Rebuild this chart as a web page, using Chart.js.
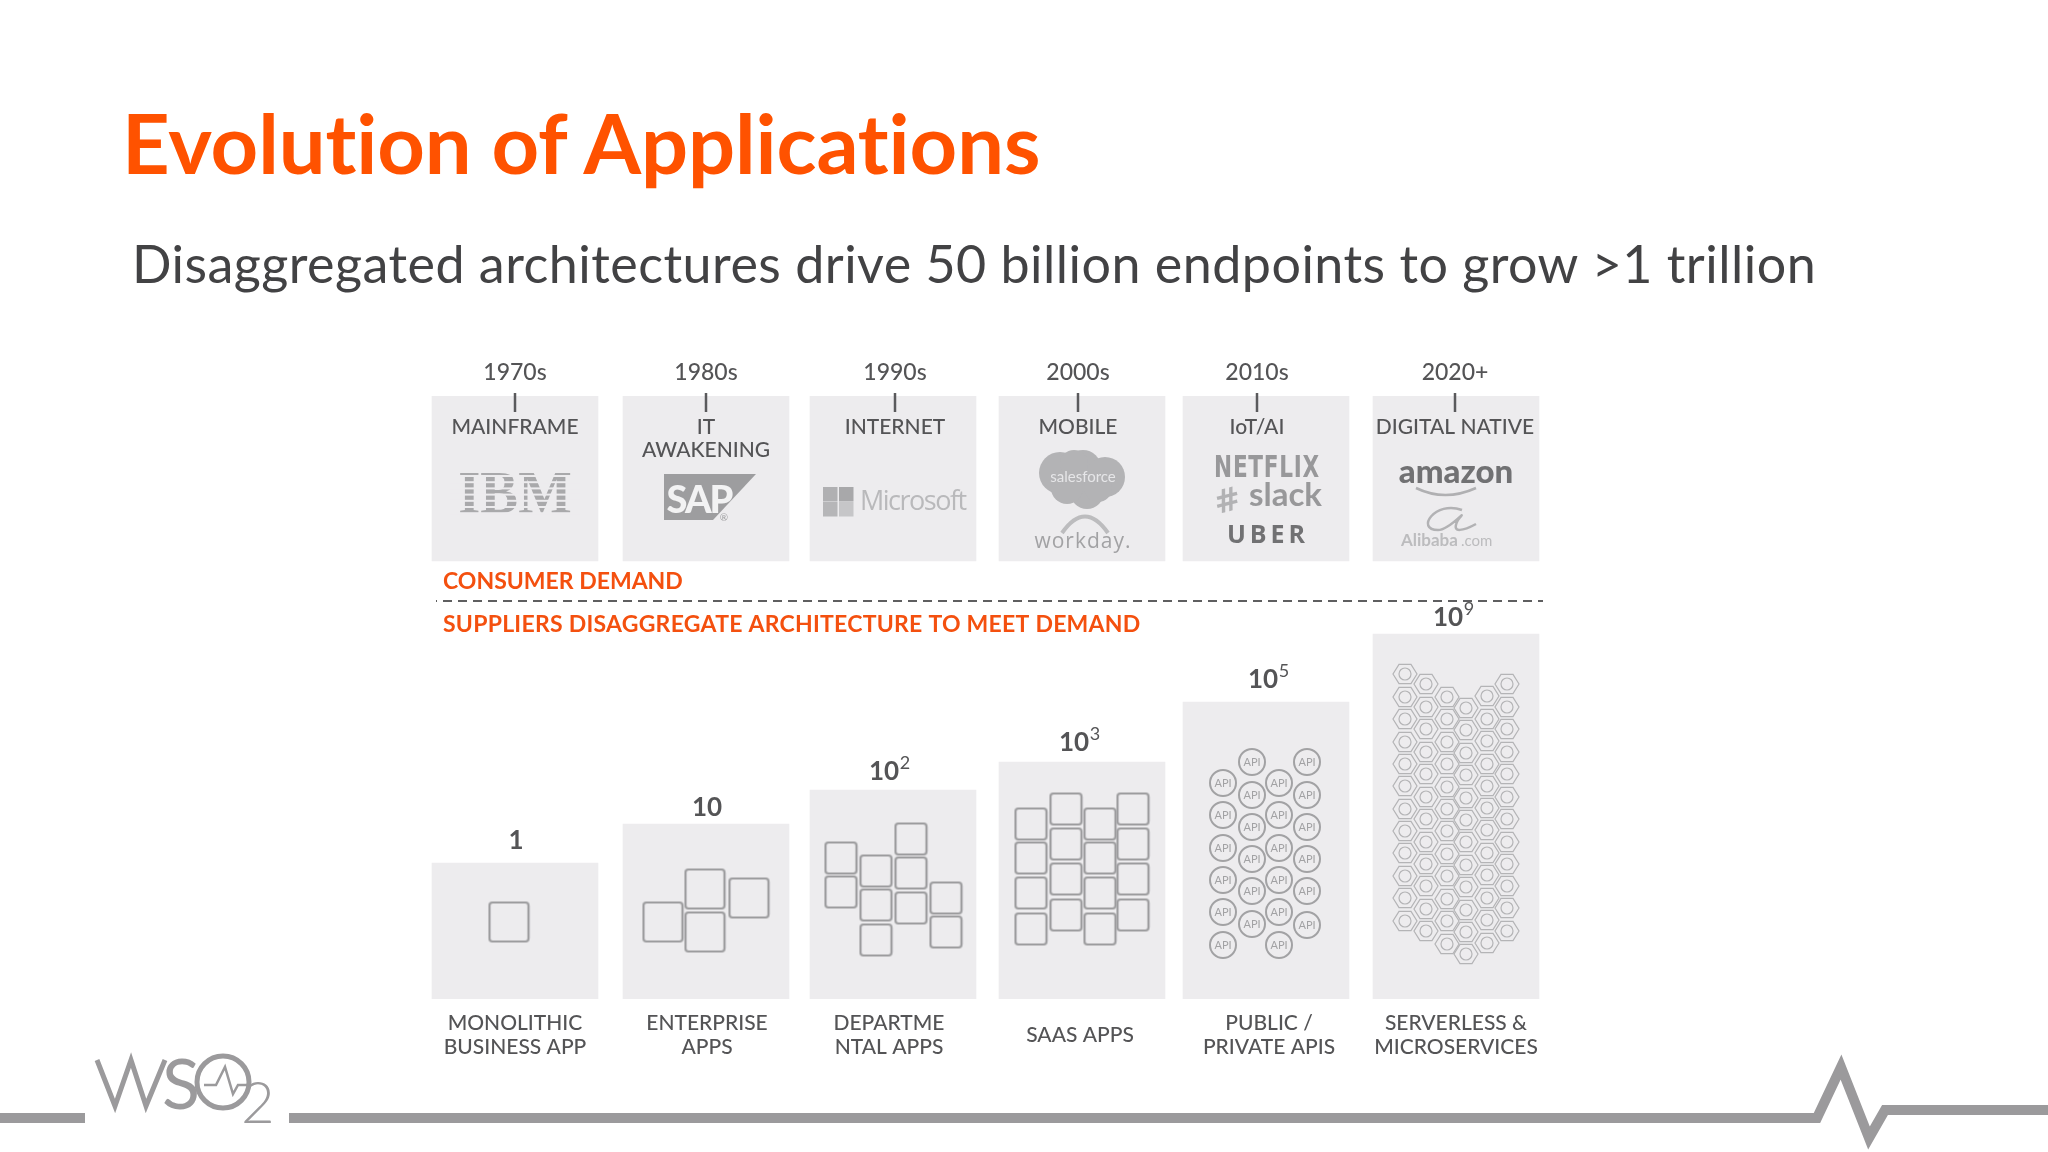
<!DOCTYPE html>
<html>
<head>
<meta charset="utf-8">
<title>Evolution of Applications</title>
<script src="https://cdn.jsdelivr.net/npm/chart.js@4"></script>
<style>
  html, body { margin: 0; background: #fff; width: 2048px; height: 1152px; overflow: hidden; }
  #wrap { position: relative; width: 2048px; height: 1152px; font-family: Lato, sans-serif; }
  canvas { position: absolute; left: 0; top: 0; }
  h1, h2 { position: absolute; margin: 0; white-space: nowrap; }
  h1 { left: 122px; top: 92px; font-size: 83px; line-height: 100px; font-weight: 700; color: #ff5200; letter-spacing: -0.1px; }
  h2 { left: 132px; top: 231px; font-size: 52px; line-height: 64px; font-weight: 400; color: #424244; letter-spacing: 0.48px; }
  svg { position: absolute; left: 0; top: 0; }
</style>
</head>
<body>
<div id="wrap">
  <canvas id="grafico" width="2048" height="1152"></canvas>
  <h1>Evolution of Applications</h1>
  <h2>Disaggregated architectures drive 50 billion endpoints to grow &gt;1 trillion</h2>
  <svg width="2048" height="1152" fill="none" stroke="#9b9a9c">
    <path d="M0 1118H85M289 1118H1817L1841 1067L1869 1138L1885 1110H2048" stroke-width="10" stroke-miterlimit="8"/>
    <path d="M97 1060L115 1106L131 1060L146 1106L165 1060" stroke-width="5"/>
    <circle cx="223" cy="1082" r="26" stroke-width="5"/>
    <path d="M204 1085H216L225 1067L233 1094L238 1085H249" stroke-width="2.5"/>
    <text x="162" y="1109" font-family="Lato" font-size="70" fill="#9b9a9c" stroke="none">S</text>
    <text x="241" y="1123" font-family="Lato" font-weight="300" font-size="58" fill="#9b9a9c" stroke="none">2</text>
  </svg>
</div>
<script>
// dati
const colonne = [515, 706, 893, 1082, 1266, 1456];
const decenni = ['1970s', '1980s', '1990s', '2000s', '2010s', '2020+'];
const decenniX = [515, 706, 895, 1078, 1257, 1455];
const ere = [['MAINFRAME'], ['IT', 'AWAKENING'], ['INTERNET'], ['MOBILE'], ['IoT/AI'], ['DIGITAL NATIVE']];
const categorie = [
  ['MONOLITHIC', 'BUSINESS APP'], ['ENTERPRISE', 'APPS'], ['DEPARTME', 'NTAL APPS'],
  ['SAAS APPS'], ['PUBLIC /', 'PRIVATE APIS'], ['SERVERLESS &', 'MICROSERVICES']
];
const categorieX = [515, 707, 889, 1080, 1269, 1456];
const altezzaInizio = [-2, 0, 0, 0, 0, 0];
const altezzaFine = [136, 175, 209, 237, 297, 365];
const domandaInizio = [438, 438, 438, 438, 438, 438];
const domandaFine = [603, 603, 603, 603, 603, 603];
const scala = ['1', '10', '10', '10', '10', '10'];
const esponente = ['', '', '2', '3', '5', '9'];
const scalaX = [516, 707, 884, 1074, 1263, 1448];
const scalaY = [150, 183, 219, 248, 311, 373];
const divisorio = [{x: 436, y: 398}, {x: 1543, y: 398}];

// una colonna di icone: x e le sue y
const blocchiGrandi = [[509, [77]], [663, [77]], [705, [110, 67]], [749, [101]]];
const blocchiReparto = [[841, [141, 107]], [876, [128, 94, 59]], [911, [160, 126, 91]], [946, [101, 67]]];
const blocchiSaas = [
  [1031, [175, 141, 106, 70]], [1066, [190, 155, 120, 84]],
  [1100, [175, 141, 106, 70]], [1133, [190, 155, 120, 84]]
];
const cerchiApi = [
  [1223, [216, 184, 151, 119, 87, 54]], [1252, [237, 204, 172, 140, 108, 75]],
  [1279, [216, 184, 151, 119, 87, 54]], [1307, [237, 204, 172, 140, 108, 74]]
];
const esagoni = [
  [1405, [325, 302, 280, 257, 235, 213, 190, 168, 146, 123, 101, 78]],
  [1426, [315, 292, 270, 247, 225, 202, 180, 157, 135, 113, 90, 68]],
  [1447, [302, 280, 257, 235, 212, 190, 168, 145, 123, 100, 78, 55]],
  [1466, [291, 269, 246, 224, 201, 179, 157, 134, 112, 89, 67, 45]],
  [1487, [303, 280, 258, 235, 213, 191, 169, 146, 124, 101, 79, 56]],
  [1507, [315, 292, 270, 247, 225, 202, 180, 157, 135, 113, 91, 68]]
];

const FONT = 'Lato, sans-serif';
const GRIGIO = '#545456';
const ARANCIO = '#f4500f';
const SFONDO = '#edecee';

function punti(colonneIcone) {
  return colonneIcone.flatMap(c => c[1].map(y => ({x: c[0], y: y})));
}

function tela(w, h, disegna) {
  const c = document.createElement('canvas');
  c.width = w;
  c.height = h;
  disegna(c.getContext('2d'));
  return c;
}

function quadrato(lato) {
  return tela(lato + 4, lato + 4, g => {
    g.strokeStyle = '#9c9c9e';
    g.lineWidth = 2.2;
    g.beginPath();
    g.roundRect(2, 2, lato, lato, 3);
    g.stroke();
  });
}

const iconaCerchio = tela(32, 32, g => {
  g.strokeStyle = '#a2a2a4';
  g.lineWidth = 2;
  g.beginPath();
  g.arc(16, 16, 13, 0, Math.PI * 2);
  g.stroke();
});

const iconaEsagono = tela(28, 26, g => {
  g.strokeStyle = '#b4b4b6';
  g.lineWidth = 1.2;
  g.beginPath();
  for (let i = 0; i < 6; i++) {
    const a = i * Math.PI / 3;
    g.lineTo(14 + 12 * Math.cos(a), 13 + 11 * Math.sin(a));
  }
  g.closePath();
  g.stroke();
  g.beginPath();
  g.arc(14, 13, 6, 0, Math.PI * 2);
  g.stroke();
});

function icone(dati, stile) {
  return {
    type: 'scatter', data: punti(dati), pointStyle: stile, pointRadius: 10,
    showLine: false, order: 1
  };
}

function testo(ctx, str, x, y, font, colore, align, spazio) {
  ctx.font = font;
  ctx.fillStyle = colore;
  ctx.textAlign = align || 'center';
  ctx.letterSpacing = (spazio || 0) + 'px';
  ctx.textBaseline = 'alphabetic';
  ctx.fillText(str, x, y);
  ctx.letterSpacing = '0px';
}

function disegnaLoghi(ctx) {
  // IBM a righe
  ctx.save();
  ctx.translate(515, 513);
  ctx.scale(0.93, 1);
  testo(ctx, 'IBM', 0, 0, 'bold 61px "Liberation Serif"', '#a9a9ab');
  ctx.restore();
  ctx.fillStyle = SFONDO;
  for (let i = 0; i < 7; i++) ctx.fillRect(450, 475 + i * 6.2, 130, 2);

  // SAP
  ctx.fillStyle = '#9d9d9f';
  ctx.beginPath();
  ctx.moveTo(664, 474);
  ctx.lineTo(756, 474);
  ctx.lineTo(713, 520);
  ctx.lineTo(664, 520);
  ctx.fill();
  testo(ctx, 'SAP', 699, 513, '900 38px ' + FONT, '#f2f2f3', 'center', -2);
  testo(ctx, '®', 724, 521, '10px ' + FONT, '#9d9d9f');

  // Microsoft
  [[823, 487, '#b0b0b2'], [839, 487, '#a8a8aa'], [823, 502, '#b6b6b8'], [839, 502, '#c6c6c8']].forEach(q => {
    ctx.fillStyle = q[2];
    ctx.fillRect(q[0], q[1], 14.5, 14.5);
  });
  testo(ctx, 'Microsoft', 860, 510, '27px "Open Sans"', '#b9b9bb', 'left', -1.5);

  // salesforce + workday
  ctx.fillStyle = '#b3b3b5';
  [[1060, 473, 21], [1083, 468, 18], [1105, 477, 20], [1087, 492, 17], [1067, 488, 16], [1074, 464, 14], [1098, 488, 14]].forEach(c => {
    ctx.beginPath();
    ctx.arc(c[0], c[1], c[2], 0, Math.PI * 2);
    ctx.fill();
  });
  testo(ctx, 'salesforce', 1083, 482, '15px ' + FONT, '#e6e6e8');
  ctx.strokeStyle = '#bcbcbe';
  ctx.lineWidth = 4;
  ctx.beginPath();
  ctx.moveTo(1062, 533);
  ctx.quadraticCurveTo(1085, 500, 1108, 533);
  ctx.stroke();
  testo(ctx, 'workday.', 1083, 548, '21px "Open Sans"', '#a2a2a4', 'center', 1);

  // Netflix, slack, Uber
  ctx.save();
  ctx.translate(1267, 477);
  ctx.scale(0.72, 1);
  testo(ctx, 'NETFLIX', 0, 0, 'bold 30px "DejaVu Sans"', '#98989a', 'center', 1);
  ctx.restore();
  ctx.save();
  ctx.translate(1230, 511);
  ctx.rotate(-0.25);
  testo(ctx, '#', 0, 0, 'bold 32px "DejaVu Sans"', '#b2b2b4');
  ctx.restore();
  testo(ctx, 'slack', 1249, 506, 'bold 33px ' + FONT, '#98989a', 'left');
  testo(ctx, 'UBER', 1268, 543, 'bold 25px "Open Sans"', '#717173', 'center', 4);

  // Amazon, Alibaba
  testo(ctx, 'amazon', 1456, 483, '900 33px ' + FONT, '#717173');
  ctx.strokeStyle = '#b0b0b2';
  ctx.lineWidth = 2.5;
  ctx.beginPath();
  ctx.moveTo(1416, 488);
  ctx.quadraticCurveTo(1445, 502, 1476, 488);
  ctx.stroke();
  ctx.strokeStyle = '#b2b2b4';
  ctx.lineWidth = 2.5;
  ctx.beginPath();
  ctx.moveTo(1462, 510);
  ctx.bezierCurveTo(1435, 500, 1415, 530, 1438, 530);
  ctx.bezierCurveTo(1450, 530, 1470, 505, 1458, 520);
  ctx.bezierCurveTo(1450, 535, 1465, 530, 1476, 524);
  ctx.stroke();
  testo(ctx, 'Alibaba', 1401, 546, 'bold 17px ' + FONT, '#bcbcbe', 'left');
  testo(ctx, '.com', 1461, 546, '15px ' + FONT, '#bcbcbe', 'left');
}

const testiExtra = {
  id: 'testiExtra',
  afterDatasetsDraw(chart) {
    const ctx = chart.ctx;
    const x = chart.scales.x;
    const y = chart.scales.y;
    ctx.save();

    // trattini dei decenni dentro i riquadri
    ctx.strokeStyle = '#5a5a5c';
    ctx.lineWidth = 2.5;
    decenniX.forEach(v => {
      ctx.beginPath();
      ctx.moveTo(x.getPixelForValue(v), y.getPixelForValue(606));
      ctx.lineTo(x.getPixelForValue(v), y.getPixelForValue(587));
      ctx.stroke();
    });

    ere.forEach((righe, i) => {
      righe.forEach((r, k) => {
        testo(ctx, r, x.getPixelForValue(decenniX[i]), y.getPixelForValue(565 - k * 23), '500 21px ' + FONT, GRIGIO);
      });
    });

    testo(ctx, 'CONSUMER DEMAND', 443, y.getPixelForValue(410), 'bold 23px ' + FONT, ARANCIO, 'left');
    testo(ctx, 'SUPPLIERS DISAGGREGATE ARCHITECTURE TO MEET DEMAND', 443, y.getPixelForValue(367), 'bold 23px ' + FONT, ARANCIO, 'left', 0.25);

    // etichette 1, 10, 10^2 ... sopra le barre
    scala.forEach((s, i) => {
      const px = x.getPixelForValue(scalaX[i]);
      const py = y.getPixelForValue(scalaY[i]);
      testo(ctx, s, px, py, 'bold 26px ' + FONT, GRIGIO);
      if (esponente[i]) testo(ctx, esponente[i], px + 21, py - 11, '18px ' + FONT, GRIGIO);
    });

    // scritte API dentro i cerchi
    const meta = chart.getSortedVisibleDatasetMetas().find(m => m.label === 'API');
    if (meta) {
      meta.data.forEach(p => {
        testo(ctx, 'API', p.x, p.y + 4, '11px ' + FONT, '#a2a2a4');
      });
    }

    disegnaLoghi(ctx);
    ctx.restore();
  }
};

const sfondo = {
  id: 'sfondo',
  beforeDraw(chart) {
    chart.ctx.save();
    chart.ctx.fillStyle = '#fff';
    chart.ctx.fillRect(0, 0, chart.width, chart.height);
    chart.ctx.restore();
  }
};

new Chart(document.getElementById('grafico').getContext('2d'), {
  type: 'bar',
  data: {
    datasets: [
      {
        label: 'Consumer demand',
        data: colonne.map((c, i) => ({x: c, y: [domandaInizio[i], domandaFine[i]]})),
        backgroundColor: SFONDO, barThickness: 166, grouped: false, order: 5
      },
      {
        label: 'Architecture',
        data: colonne.map((c, i) => ({x: c, y: [altezzaInizio[i], altezzaFine[i]]})),
        backgroundColor: SFONDO, barThickness: 166, grouped: false, order: 5
      },
      {
        label: 'Divider', type: 'line', data: divisorio, borderColor: '#5e5e60',
        borderWidth: 2, borderDash: [9, 6], borderDashOffset: 8, pointRadius: 0, order: 2
      },
      Object.assign(icone(blocchiGrandi, quadrato(39)), {label: 'Blocks L'}),
      Object.assign(icone(blocchiReparto, quadrato(31)), {label: 'Blocks M'}),
      Object.assign(icone(blocchiSaas, quadrato(31)), {label: 'Blocks S'}),
      Object.assign(icone(cerchiApi, iconaCerchio), {label: 'API'}),
      Object.assign(icone(esagoni, iconaEsagono), {label: 'Microservices'})
    ]
  },
  options: {
    responsive: false,
    animation: false,
    devicePixelRatio: 1,
    layout: {autoPadding: false, padding: {top: 356, bottom: 93, left: 0, right: 0}},
    plugins: {legend: {display: false}, tooltip: {enabled: false}, title: {display: false}},
    scales: {
      x: {
        type: 'linear', min: 0, max: 2048, position: 'bottom', offset: false,
        grid: {display: false, offset: false}, border: {display: false},
        afterBuildTicks: s => { s.ticks = categorieX.map(v => ({value: v})); },
        afterFit: s => { s.height = 60; s.paddingLeft = 0; s.paddingRight = 0; },
        ticks: {
          autoSkip: false, maxRotation: 0, padding: 16, crossAlign: 'center',
          color: GRIGIO, font: {family: FONT, size: 21, weight: '500', lineHeight: 1.14},
          callback: (v, i) => categorie[i]
        }
      },
      xAnni: {
        type: 'linear', min: 0, max: 2048, position: 'top', offset: false,
        grid: {display: false, offset: false}, border: {display: false},
        afterBuildTicks: s => { s.ticks = decenniX.map(v => ({value: v})); },
        afterFit: s => { s.height = 40; s.paddingLeft = 0; s.paddingRight = 0; },
        ticks: {
          autoSkip: false, maxRotation: 0, padding: 2,
          color: GRIGIO, font: {family: FONT, size: 23, weight: '500'},
          callback: (v, i) => decenni[i]
        }
      },
      y: {type: 'linear', min: 0, max: 603, display: false}
    }
  },
  plugins: [sfondo, testiExtra]
});
</script>
</body>
</html>
